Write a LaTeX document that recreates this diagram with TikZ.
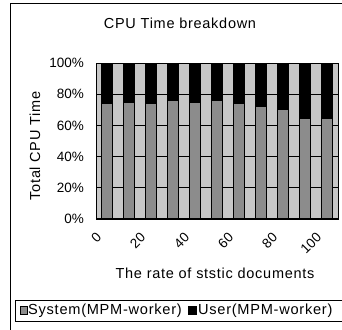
\documentclass[tikz,border=0pt]{standalone}
\usepackage{fontspec}
\setmainfont{Liberation Sans}
\newfontfamily\widesans[LetterSpace=5]{Liberation Sans}
\definecolor{plotbg}{gray}{0.78}
\definecolor{sysgray}{gray}{0.55}
\tikzset{
  bartop/.style={fill=black, draw=black, line width=0.5pt},
  barsys/.style={fill=sysgray, draw=black, line width=0.5pt},
  grid line/.style={draw=black, line width=0.8pt},
  ticklabel/.style={font=\fontsize{13.5}{15}\selectfont, inner sep=0pt},
  axistitle/.style={font=\widesans\fontsize{14.5}{16}\selectfont, inner sep=0pt},
  legendtext/.style={font=\widesans\fontsize{14.6}{17}\selectfont, inner sep=0pt},
}
\begin{document}
\begin{tikzpicture}[x=1pt,y=-1pt]
\useasboundingbox (0,0) rectangle (342,329);
\clip (0,0) rectangle (342,329);
\fill[white] (0,0) rectangle (342,329);
% outer frame
\draw[line width=0.9pt] (10,340) |- (350,3);
% title
\node[font=\widesans\fontsize{14.5}{17}\selectfont, inner sep=0pt] (title) at (180,23) {CPU Time breakdown};
% plot area
\fill[plotbg] (96,63) rectangle (338,219);
\foreach \k in {1,2,3,4} {
  \draw[grid line] (96,{219-31.2*\k}) -- (338,{219-31.2*\k});
}
\foreach \k in {0,1,2,3,4,5} {
  \pgfmathtruncatemacro\pc{20*\k}
  \node[ticklabel, anchor=east] (yt\k) at (84,{219-31.2*\k}) {\pc\%};
}
\foreach \i/\v in {0/74,1/75,2/74.5,3/76,4/75,5/76,6/74,7/72,8/70.5,9/64.5,10/64.5} {
  \pgfmathsetmacro\cx{107+22*\i}
  \pgfmathsetmacro\ty{219-1.56*\v}
  \draw[barsys] ({\cx-5.5},219) rectangle ({\cx+5.5},\ty);
  \draw[bartop] ({\cx-5.5},\ty) rectangle ({\cx+5.5},63);
}
\draw[black, line width=0.8pt] (96,63) rectangle (338,219);
\draw[black, line width=1.4pt] (96,219) -- (338,219);
% x tick labels
\foreach \i/\t in {0/0,2/20,4/40,6/60,8/80,10/100} {
  \node[ticklabel, rotate=45, anchor=east] (xt\i) at ({107+22*\i-8},235) {\t};
}
% axis titles
\node[axistitle, rotate=90] (ytitle) at (35,146) {Total CPU Time};
\node[axistitle] (xtitle) at (215,273) {The rate of ststic documents};
% legend
\draw[line width=0.9pt] (15,300) rectangle (360,321);
\draw[barsys] (20,306) rectangle (27,314);
\node[legendtext, anchor=west] (leg1) at (28,310.5) {System(MPM-worker)};
\draw[bartop] ([xshift=6pt]leg1.east |- 0,306) rectangle ([xshift=14pt]leg1.east |- 0,314);
\node[legendtext, anchor=west] (leg2) at ([xshift=16pt]leg1.east) {User(MPM-worker)};
\end{tikzpicture}
\end{document}
